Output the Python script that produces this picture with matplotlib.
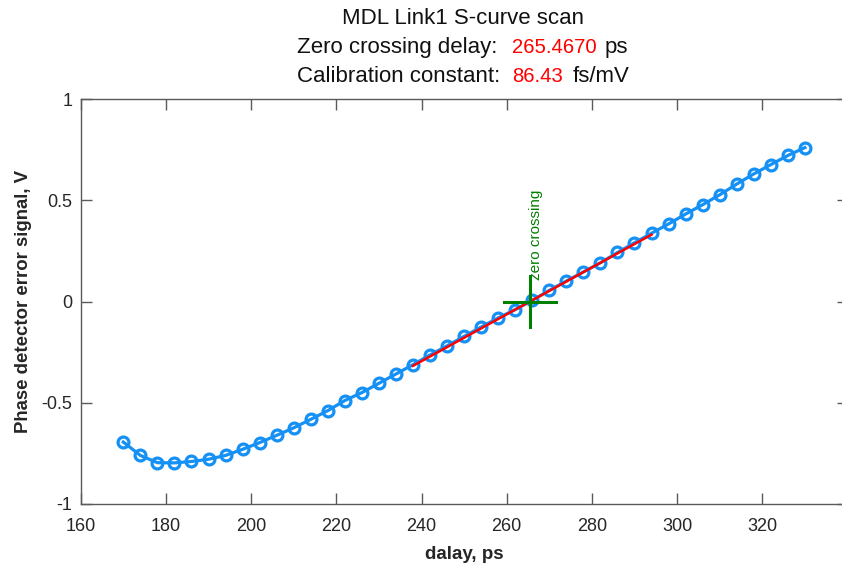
import numpy as np
import matplotlib
matplotlib.use("Agg")
import matplotlib.pyplot as plt

plt.rcParams['font.family'] = ['Liberation Sans', 'DejaVu Sans']

# ---- data ----
delay_ps = [170, 174, 178, 182, 186, 190, 194, 198, 202, 206, 210, 214, 218,
            222, 226, 230, 234, 238, 242, 246, 250, 254, 258, 262, 266, 270,
            274, 278, 282, 286, 290, 294, 298, 302, 306, 310, 314, 318, 322,
            326, 330]
signal_v = [-0.694, -0.760, -0.796, -0.797, -0.790, -0.779, -0.760, -0.730,
            -0.697, -0.661, -0.624, -0.582, -0.539, -0.489, -0.450, -0.404,
            -0.358, -0.312, -0.264, -0.219, -0.172, -0.126, -0.081, -0.040,
            0.006, 0.055, 0.101, 0.146, 0.191, 0.242, 0.290, 0.337, 0.383,
            0.432, 0.478, 0.527, 0.580, 0.630, 0.676, 0.721, 0.760]
zero_crossing_ps = 265.4670
cal_fs_per_mV = 86.43
fit_range_ps = [238, 294]
cross_half_x = 6.2
cross_half_y = 0.125
x_ticks = [160, 180, 200, 220, 240, 260, 280, 300, 320]
y_ticks = [-1, -0.5, 0, 0.5, 1]
y_tick_labels = ['-1', '-0.5', '0', '0.5', '1']

W, H = 842, 568
fig = plt.figure(figsize=(W / 100, H / 100), dpi=100)
ax = fig.add_axes([80.7 / W, (H - 504) / H, 766.8 / W, 405 / H])

blue = '#1590f5'
ax.plot(delay_ps, signal_v, '-', color=blue, lw=2.3, marker='o', ms=7.8,
        mfc='none', mec=blue, mew=2.3, zorder=2)

slope = 1.0 / cal_fs_per_mV  # V per ps (mV/fs)
fx = np.array(fit_range_ps, dtype=float)
fy = slope * (fx - zero_crossing_ps)
ax.plot(fx, fy, '-', color='#ff0000', lw=1.8, zorder=3)

green = '#008000'
ax.plot([zero_crossing_ps - cross_half_x, zero_crossing_ps + cross_half_x], [0, 0],
        color=green, lw=2.2, zorder=4)
ax.plot([zero_crossing_ps, zero_crossing_ps], [-cross_half_y, cross_half_y],
        color=green, lw=2.2, zorder=4)
ax.text(zero_crossing_ps + 1.3, 0.105, 'zero crossing', rotation=90, color=green,
        fontsize=11, ha='center', va='bottom', zorder=5)

ax.set_xlim(160, 340)
ax.set_ylim(-1, 1)
ax.set_xticks(x_ticks)
ax.set_xticklabels([str(t) for t in x_ticks])
ax.set_yticks(y_ticks)
ax.set_yticklabels(y_tick_labels)
for s in ax.spines.values():
    s.set_color('#5a5a5a')
    s.set_linewidth(1.0)
ax.tick_params(direction='in', length=8, width=1, color='#5a5a5a',
               labelsize=13, labelcolor='#262626', top=True, right=True,
               pad=6)
ax.tick_params(axis='x', pad=10)

ax.set_xlabel('dalay, ps', fontsize=13.5, fontweight='bold', color='#262626',
              labelpad=8)
ax.set_ylabel('Phase detector error signal, V', fontsize=13.4, fontweight='bold',
              color='#262626', labelpad=7)

# title lines
def ft(xpx, ypx, s, color='#111111', ha='left', size=16):
    fig.text(xpx / W, 1 - ypx / H, s, color=color, fontsize=size, ha=ha,
             va='baseline')

ft(463, 24, 'MDL Link1 S-curve scan', ha='center')
ft(297, 52.7, 'Zero crossing delay:')
ft(512, 52.7, f'{zero_crossing_ps:.4f}', color='#ff0000', size=14.6)
ft(605, 52.7, 'ps')
ft(297, 81.7, 'Calibration constant:')
ft(512, 81.7, f'{cal_fs_per_mV:.2f}', color='#ff0000', size=14.6)
ft(573, 81.7, 'fs/mV')

fig.savefig('out.png', dpi=100, facecolor='white')
